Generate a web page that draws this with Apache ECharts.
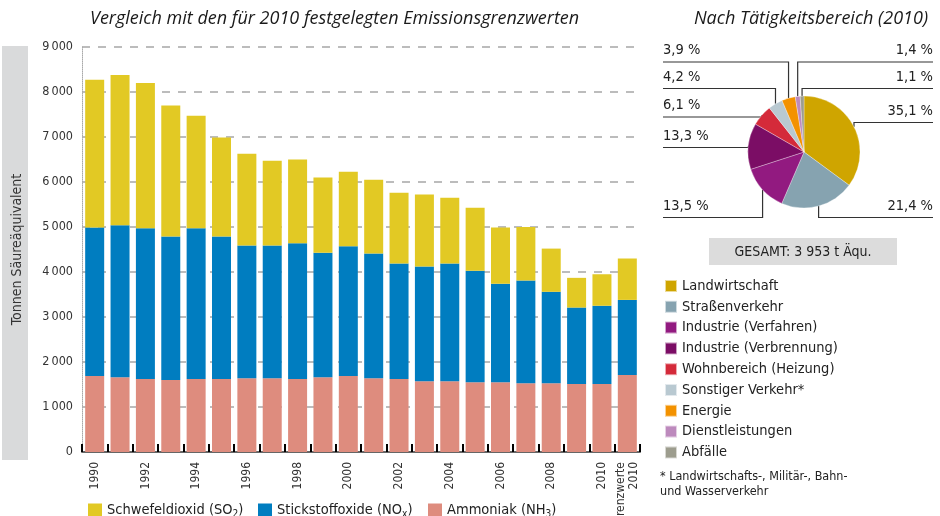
<!DOCTYPE html>
<html>
<head>
<meta charset="utf-8">
<title>Emissionen Säureäquivalent</title>
<script src="https://cdn.jsdelivr.net/npm/echarts@6/dist/echarts.min.js"></script>
<style>
html, body { margin: 0; padding: 0; background: #fff; }
#main { width: 940px; height: 516px; }
</style>
</head>
<body>
<div id="main"></div>
<script>
// Jahre + Grenzwert
var categories = ['1990', '1991', '1992', '1993', '1994', '1995', '1996', '1997', '1998', '1999',
    '2000', '2001', '2002', '2003', '2004', '2005', '2006', '2007', '2008', '2009', '2010', 'Grenzwerte\n2010'];

// Tonnen Säureäquivalent (gestapelt)
var ammoniak = [1690, 1660, 1620, 1600, 1620, 1620, 1640, 1640, 1620, 1660,
    1690, 1640, 1620, 1570, 1570, 1550, 1550, 1530, 1530, 1510, 1510, 1710];
var stickstoff = [3300, 3380, 3350, 3190, 3350, 3170, 2950, 2950, 3020, 2770,
    2880, 2770, 2570, 2550, 2620, 2480, 2190, 2280, 2030, 1700, 1740, 1670];
var schwefel = [3280, 3340, 3230, 2910, 2500, 2200, 2040, 1880, 1860, 1670,
    1660, 1640, 1570, 1600, 1460, 1400, 1250, 1190, 960, 660, 700, 920];

// Tätigkeitsbereiche 2010 (%)
var sektoren = ['Landwirtschaft', 'Straßenverkehr', 'Industrie (Verfahren)', 'Industrie (Verbrennung)',
    'Wohnbereich (Heizung)', 'Sonstiger Verkehr*', 'Energie', 'Dienstleistungen', 'Abfälle'];
var anteile = [35.1, 21.4, 13.5, 13.3, 6.1, 4.2, 3.9, 1.4, 1.1];

var yTicks = [0, 1000, 2000, 3000, 4000, 5000, 6000, 7000, 8000, 9000];

var FONT = '"DejaVu Sans Condensed", "Liberation Sans Narrow", sans-serif';
var TITLEFONT = '"Open Sans", Lato, sans-serif';
var sektorFarben = ['#cfa500', '#86a3b0', '#921a80', '#7b0d65', '#d42a3a', '#b9c9d1', '#f39200', '#bd8abd', '#9d9d8e'];

// Lage der Prozent-Beschriftungen (Textmitte y, Seite)
var pieLabelY = [111, 206, 206, 136, 105.5, 77, 50.5, 50.5, 77];
var pieLabelSide = ['r', 'r', 'l', 'l', 'l', 'l', 'l', 'r', 'r'];

var legendText = {
    'Schwefeldioxid': '{a|Schwefeldioxid (SO}{s|2}{a|)}',
    'Stickstoffoxide': '{a|Stickstoffoxide (NO}{s|x}{a|)}',
    'Ammoniak': '{a|Ammoniak (NH}{s|3}{a|)}'
};

function barLegend(name, left) {
    return {
        data: [name],
        left: left,
        top: 498,
        itemWidth: 14,
        itemHeight: 14,
        icon: 'rect',
        selectedMode: false,
        formatter: function (n) { return legendText[n]; },
        textStyle: {
            color: '#222',
            rich: {
                a: { fontFamily: FONT, fontSize: 14.5, lineHeight: 18, color: '#222' },
                s: { fontFamily: FONT, fontSize: 10, lineHeight: 11, verticalAlign: 'bottom', color: '#222' }
            }
        }
    };
}

var myChart = echarts.init(document.getElementById('main'));

var option = {
    backgroundColor: '#fff',
    animation: false,
    title: [{
        text: 'Vergleich mit den für 2010 festgelegten Emissionsgrenzwerten',
        left: 85,
        top: 5,
        textStyle: { fontFamily: TITLEFONT, fontStyle: 'italic', fontWeight: 'normal', fontSize: 18, color: '#1a1a1a' }
    }, {
        text: 'Nach Tätigkeitsbereich (2010)',
        right: 7,
        top: 5,
        textStyle: { fontFamily: TITLEFONT, fontStyle: 'italic', fontWeight: 'normal', fontSize: 18, color: '#1a1a1a' }
    }],
    legend: [
        barLegend('Schwefeldioxid', 83),
        barLegend('Stickstoffoxide', 253),
        barLegend('Ammoniak', 423),
        {
            data: sektoren,
            orient: 'vertical',
            left: 659,
            top: 273,
            itemWidth: 12,
            itemHeight: 12,
            itemGap: 4.8,
            icon: 'rect',
            selectedMode: false,
            textStyle: { fontFamily: FONT, fontSize: 14.5, lineHeight: 16, color: '#222' }
        }
    ],
    grid: { left: 82, right: 300, top: 47, bottom: 64, outerBoundsMode: 'none', containLabel: false },
    xAxis: {
        type: 'category',
        data: categories,
        axisLine: { lineStyle: { color: '#666', width: 2 } },
        axisTick: { show: true, inside: true, length: 8, interval: 0, lineStyle: { color: '#000', width: 2 } },
        axisLabel: {
            rotate: 90,
            margin: 10,
            interval: function (i) { return i % 2 === 0 || i === 21; },
            fontFamily: FONT,
            fontSize: 12,
            lineHeight: 13,
            color: '#333'
        }
    },
    yAxis: {
        type: 'value',
        min: yTicks[0],
        max: yTicks[yTicks.length - 1],
        interval: 1000,
        name: 'Tonnen Säureäquivalent',
        nameLocation: 'middle',
        nameGap: 58,
        nameTextStyle: { fontFamily: FONT, fontSize: 14, color: '#333' },
        axisLine: { show: true, lineStyle: { color: '#aaa', type: 'dotted', width: 1 } },
        axisTick: { show: false },
        axisLabel: {
            margin: 9,
            fontFamily: FONT,
            fontSize: 12.5,
            color: '#333',
            formatter: function (v) {
                return v === 0 ? '0' : Math.floor(v / 1000) + '\u2009000';
            }
        },
        splitLine: { lineStyle: { color: '#a6a6a6', width: 1.5, type: [8, 8] } }
    },
    graphic: [
        { type: 'rect', z: -10, shape: { x: 2, y: 46, width: 26, height: 414 }, style: { fill: '#d9dadb' } },
        { type: 'rect', shape: { x: 709, y: 238, width: 188, height: 27 }, style: { fill: '#dcdcdc' } },
        {
            type: 'text', x: 803, y: 252,
            style: { text: 'GESAMT: 3 953 t Äqu.', fontFamily: FONT, fontSize: 14, fill: '#222', align: 'center', verticalAlign: 'middle' }
        },
        {
            type: 'text', x: 660, y: 469,
            style: { text: '* Landwirtschafts-, Militär-, Bahn-\nund Wasserverkehr', fontFamily: FONT, fontSize: 12.5, lineHeight: 15, fill: '#222' }
        }
    ],
    series: [
        {
            name: 'Ammoniak', type: 'bar', stack: 'e', barWidth: 19, data: ammoniak,
            itemStyle: { color: '#de8c7e' }, emphasis: { disabled: true }
        },
        {
            name: 'Stickstoffoxide', type: 'bar', stack: 'e', barWidth: 19, data: stickstoff,
            itemStyle: { color: '#007dc0' }, emphasis: { disabled: true }
        },
        {
            name: 'Schwefeldioxid', type: 'bar', stack: 'e', barWidth: 19, data: schwefel,
            itemStyle: { color: '#e2c924' }, emphasis: { disabled: true }
        },
        {
            name: 'Tätigkeitsbereich', type: 'pie',
            center: [804, 152],
            radius: 56,
            startAngle: 90,
            clockwise: true,
            avoidLabelOverlap: false,
            emphasis: { disabled: true },
            itemStyle: { borderColor: 'rgba(255,255,255,0.6)', borderWidth: 0.5 },
            data: sektoren.map(function (n, i) {
                return { name: n, value: anteile[i], itemStyle: { color: sektorFarben[i] } };
            }),
            label: {
                show: true,
                position: 'outside',
                fontFamily: FONT,
                fontSize: 14.5,
                color: '#222',
                formatter: function (p) { return p.value.toFixed(1).replace('.', ',') + ' %'; }
            },
            labelLine: { show: true, length: 6, length2: 6, smooth: false, lineStyle: { color: '#333', width: 1.2 } },
            labelLayout: function (p) {
                var i = p.dataIndex;
                var left = pieLabelSide[i] === 'l';
                var ex = left ? 663 : 933;
                var ty = pieLabelY[i];
                var ly = ty + 11.5;
                var res = { x: ex, y: ty, align: left ? 'left' : 'right', verticalAlign: 'middle' };
                if (p.labelLinePoints && p.labelLinePoints.length) {
                    var a = p.labelLinePoints[0];
                    res.labelLinePoints = [[a[0], a[1]], [a[0], ly], [ex, ly]];
                }
                return res;
            }
        }
    ]
};

myChart.setOption(option);
</script>
</body>
</html>
